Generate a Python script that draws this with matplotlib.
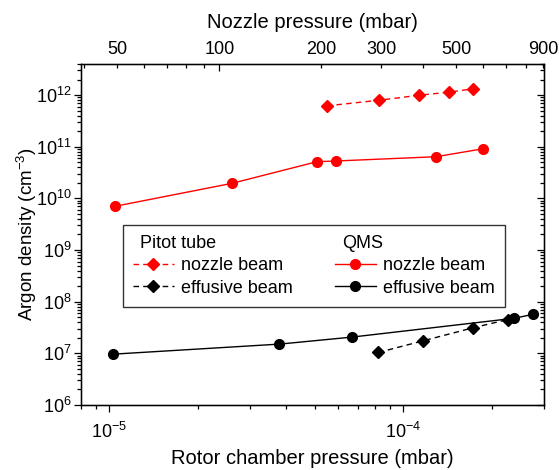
import matplotlib
matplotlib.use('Agg')
import matplotlib.pyplot as plt
from matplotlib.ticker import FixedLocator, FixedFormatter, LogLocator, NullFormatter
from matplotlib.lines import Line2D

plt.rcParams['font.family'] = ['Liberation Sans', 'DejaVu Sans']
plt.rcParams['mathtext.fontset'] = 'custom'
plt.rcParams['mathtext.rm'] = 'Liberation Sans'
plt.rcParams['mathtext.it'] = 'Liberation Sans:italic'
plt.rcParams['mathtext.bf'] = 'Liberation Sans:bold'
plt.rcParams['axes.unicode_minus'] = False

# ---- data (rotor chamber pressure in mbar, argon density in cm^-3) ----
qms_nozzle_x = [1.046e-5, 2.614e-5, 5.08e-5, 5.90e-5, 1.292e-4, 1.871e-4]
qms_nozzle_y = [7.04e9, 1.96e10, 5.13e10, 5.30e10, 6.41e10, 9.15e10]

pitot_nozzle_x = [5.49e-5, 8.29e-5, 1.134e-4, 1.434e-4, 1.722e-4]
pitot_nozzle_y = [6.19e11, 7.97e11, 9.95e11, 1.14e12, 1.32e12]

qms_effusive_x = [1.032e-5, 3.79e-5, 6.67e-5, 2.386e-4, 2.77e-4]
qms_effusive_y = [9.65e6, 1.51e7, 2.06e7, 4.78e7, 5.71e7]

pitot_effusive_x = [8.22e-5, 1.164e-4, 1.722e-4, 2.265e-4]
pitot_effusive_y = [1.04e7, 1.74e7, 3.11e7, 4.51e7]

nozzle_major = [100]
nozzle_minor = [40, 50, 60, 70, 80, 90, 200, 300, 400, 500, 600, 700, 800, 900]
nozzle_minor_labels = ['', '50', '', '', '', '', '200', '300', '', '500', '', '', '', '900']

fig = plt.figure(figsize=(5.59, 4.70), dpi=100)
ax = fig.add_axes([81/559, 1-405/470, 462.5/559, 341/470])

ax.plot(pitot_nozzle_x, pitot_nozzle_y, color='#ff0000', linestyle=(0, (4, 3)), lw=1,
        marker='D', ms=6, mec='#ff0000', mfc='#ff0000', label='nozzle beam')
ax.plot(qms_nozzle_x, qms_nozzle_y, color='#ff0000', linestyle='-', lw=1,
        marker='o', ms=7, mec='#ff0000', mfc='#ff0000', label='nozzle beam')
ax.plot(pitot_effusive_x, pitot_effusive_y, color='black', linestyle=(0, (4, 3)), lw=1,
        marker='D', ms=6, label='effusive beam')
ax.plot(qms_effusive_x, qms_effusive_y, color='black', linestyle='-', lw=1,
        marker='o', ms=7, label='effusive beam')

ax.set_xscale('log')
ax.set_yscale('log')
ax.set_xlim(8e-6, 3e-4)
ax.set_ylim(1e6, 4e12)
ax.yaxis.set_major_locator(LogLocator(base=10, numticks=20))
ax.yaxis.set_minor_locator(LogLocator(base=10, subs=range(2, 10), numticks=20))
ax.yaxis.set_minor_formatter(NullFormatter())
ax.xaxis.set_minor_formatter(NullFormatter())

for sp in ax.spines.values():
    sp.set_linewidth(1.0)

ax.tick_params(axis='both', which='both', direction='out', labelsize=13, width=0.9,
               top=False, right=False)
ax.tick_params(which='major', length=5)
ax.tick_params(which='minor', length=3)
ax.tick_params(axis='x', pad=7)
ax.tick_params(axis='y', pad=2)

ax.set_xlabel('Rotor chamber pressure (mbar)', fontsize=14.5, labelpad=5)
ax.set_ylabel('Argon density (cm$^{-3}$)', fontsize=13.5, labelpad=-2.5)

# right axis ticks (inward)
axr = ax.twinx()
axr.set_yscale('log')
axr.set_ylim(ax.get_ylim())
axr.yaxis.set_major_locator(LogLocator(base=10, numticks=20))
axr.yaxis.set_minor_locator(LogLocator(base=10, subs=range(2, 10), numticks=20))
axr.yaxis.set_minor_formatter(NullFormatter())
axr.tick_params(axis='y', which='both', direction='in', labelright=False, width=0.9)
axr.tick_params(which='major', length=5)
axr.tick_params(which='minor', length=3)

# top axis: nozzle pressure
axt = ax.twiny()
axt.set_xscale('log')
axt.set_xlim(39.1, 903.6)
axt.xaxis.set_major_locator(FixedLocator(nozzle_major))
axt.xaxis.set_major_formatter(FixedFormatter(['100']))
axt.xaxis.set_minor_locator(FixedLocator(nozzle_minor))
axt.xaxis.set_minor_formatter(FixedFormatter(nozzle_minor_labels))
axt.tick_params(axis='x', which='both', direction='in', labelsize=13, width=0.9, pad=4)
axt.tick_params(which='major', length=5)
axt.tick_params(which='minor', length=3)
axt.set_xlabel('Nozzle pressure (mbar)', fontsize=14.5, labelpad=10)

# legend
hdr1 = Line2D([], [], linestyle='none', marker=None)
hdr2 = Line2D([], [], linestyle='none', marker=None)
lines = ax.get_lines()
handles = [hdr1, lines[0], lines[2], hdr2, lines[1], lines[3]]
labels = ['Pitot tube', 'nozzle beam', 'effusive beam', 'QMS', 'nozzle beam', 'effusive beam']
leg = axt.legend(handles, labels, ncol=2, loc='upper left',
                 bbox_to_anchor=(0.09, 0.528),
                 fontsize=13, frameon=True, fancybox=False, edgecolor='#333333',
                 framealpha=1, handlelength=2.3, handletextpad=0.4,
                 labelspacing=0.3, borderpad=0.55, columnspacing=2.3,
                 borderaxespad=0)
leg.get_frame().set_linewidth(1.0)
for vpack in leg._legend_handle_box.get_children():
    for hpack in vpack.get_children()[:1]:
        hpack.get_children()[0].set_width(0)

fig.savefig('out.png', dpi=100)
